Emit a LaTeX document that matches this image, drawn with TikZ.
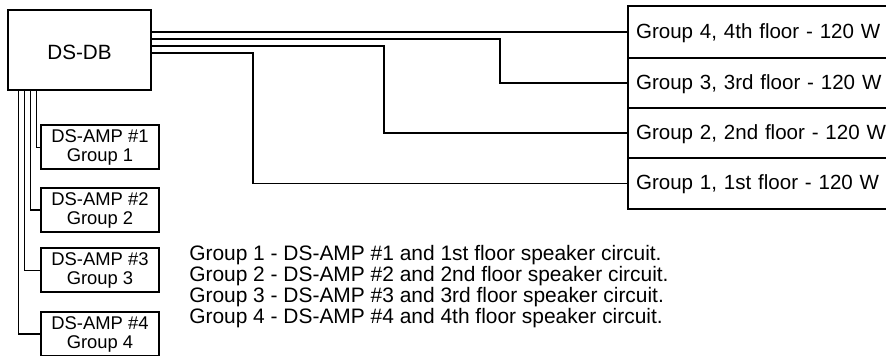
\documentclass[tikz,border=0pt]{standalone}
\usepackage{fontspec}
\setmainfont{Liberation Sans}
\begin{document}
\begin{tikzpicture}[x=0.75pt,y=-0.75pt,
  box/.style={draw,line width=1.5pt,inner sep=0pt},
  wire/.style={line width=1.2pt},
  floorbox/.style={draw,line width=1.6pt,anchor=north west,align=left,
    text width=200pt,inner xsep=6pt,inner ysep=0pt,
    font=\fontsize{15.4pt}{19pt}\selectfont,text height=9pt,text depth=0pt},
  ampbox/.style={box,minimum width=88.5pt,minimum height=33pt,align=center,
    font=\fontsize{13.8pt}{14.25pt}\selectfont},
  legend/.style={anchor=north west,inner sep=0pt,align=left,
    font=\fontsize{15.7pt}{14.2pt}\selectfont}]
\useasboundingbox (0,0) rectangle (886,356);
\clip (0,0) rectangle (886,356);

% main distribution box
\node[box,minimum width=107.25pt,minimum height=60pt,
  font=\fontsize{15.5pt}{19pt}\selectfont,text height=15pt,text depth=0pt] (ds) at (79.5,50) {DS-DB};

% floor boxes
\node[floorbox,minimum height=39pt] (f4) at (627,5) {Group 4, 4th floor - 120 W};
\node[floorbox,minimum height=37.5pt] (f3) at (627,57) {Group 3, 3rd floor - 120 W};
\node[floorbox,minimum height=37.5pt] (f2) at (627,107) {Group 2, 2nd floor - 120 W};
\node[floorbox,minimum height=38.25pt] (f1) at (627,157) {Group 1, 1st floor - 120 W};

% amplifier boxes
\node[ampbox] (a1) at (100,147.5) {DS-AMP \#1\\Group 1};
\node[ampbox] (a2) at (100,210) {DS-AMP \#2\\Group 2};
\node[ampbox] (a3) at (100,270.5) {DS-AMP \#3\\Group 3};
\node[ampbox] (a4) at (100,334) {DS-AMP \#4\\Group 4};

% wires to floors
\draw[wire] (ds.east |- f4.west) -- (f4.west);
\draw[wire] (ds.east |- 0,39) -| (500,0 |- f3.west) -- (f3.west);
\draw[wire] (ds.east |- 0,46) -| (384,0 |- f2.west) -- (f2.west);
\draw[wire] (ds.east |- 0,53) -| (253,0 |- f1.west) -- (f1.west);

% wires to amplifiers
\draw[wire] (ds.south -| 36.5,0) |- (a1.west);
\draw[wire] (ds.south -| 30.5,0) |- (a2.west);
\draw[wire] (ds.south -| 24.5,0) |- (a3.west);
\draw[wire] (ds.south -| 18.5,0) |- (a4.west);

% legend
\node[legend] (leg) at (189,245.5) {Group 1 - DS-AMP \#1 and 1st floor speaker circuit.\\
Group 2 - DS-AMP \#2 and 2nd floor speaker circuit.\\
Group 3 - DS-AMP \#3 and 3rd floor speaker circuit.\\
Group 4 - DS-AMP \#4 and 4th floor speaker circuit.};
\end{tikzpicture}
\end{document}
